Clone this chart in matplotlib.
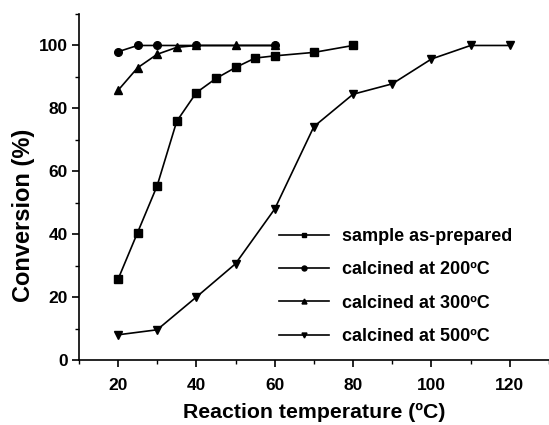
import matplotlib
matplotlib.use("Agg")
import matplotlib.pyplot as plt
from matplotlib.ticker import MultipleLocator

plt.rcParams["font.family"] = ["Liberation Sans", "DejaVu Sans"]
plt.rcParams["font.weight"] = "bold"

# ── Data ──────────────────────────────────────────────────────────────────────
temp_asprep = [20, 25, 30, 35, 40, 45, 50, 55, 60, 70, 80]
conv_asprep = [25.6, 40.5, 55.4, 75.9, 85.0, 89.5, 93.0, 96.0, 96.7, 97.8, 100.0]

temp_200 = [20, 25, 30, 40, 60]
conv_200 = [98.0, 100.0, 100.0, 100.0, 100.0]

temp_300 = [20, 25, 30, 35, 40, 50, 60]
conv_300 = [85.7, 92.9, 97.2, 99.4, 100.0, 100.0, 100.0]

temp_500 = [20, 30, 40, 50, 60, 70, 80, 90, 100, 110, 120]
conv_500 = [8.0, 9.6, 20.0, 30.6, 48.0, 74.2, 84.5, 87.8, 95.7, 100.0, 100.0]

labels = ["sample as-prepared", "calcined at 200ºC",
          "calcined at 300ºC", "calcined at 500ºC"]

# ── Figure ────────────────────────────────────────────────────────────────────
fig = plt.figure(figsize=(5.49, 4.25), dpi=100)
ax = fig.add_axes([0.1435, 0.153, 0.8565, 0.814])

style = dict(color="black", lw=1.2, ms=5.5, clip_on=False, zorder=3)
ax.plot(temp_asprep, conv_asprep, marker="s", label=labels[0], **style)
ax.plot(temp_200, conv_200, marker="o", label=labels[1], **style)
ax.plot(temp_300, conv_300, marker="^", label=labels[2], **style)
ax.plot(temp_500, conv_500, marker="v", label=labels[3], **style)

ax.set_xlim(10, 130)
ax.set_ylim(0, 110)
ax.set_xticks([20, 40, 60, 80, 100, 120])
ax.xaxis.set_minor_locator(MultipleLocator(10))
ax.yaxis.set_major_locator(MultipleLocator(20))
ax.yaxis.set_minor_locator(MultipleLocator(10))

for side in ("top", "right"):
    ax.spines[side].set_visible(False)
for side in ("left", "bottom"):
    ax.spines[side].set_linewidth(1.2)

ax.tick_params(which="major", direction="out", length=5, width=1.2,
               labelsize=12.5)
ax.tick_params(axis="x", which="major", pad=8)
ax.tick_params(axis="y", which="major", pad=3)
ax.tick_params(which="minor", direction="out", length=3, width=1.0)

ax.set_xlabel("Reaction temperature (ºC)", fontsize=15.3, fontweight="bold",
              labelpad=7)
ax.set_ylabel("Conversion (%)", fontsize=17, fontweight="bold")
ax.yaxis.set_label_coords(-0.094, 0.419)

leg = ax.legend(loc="upper left", bbox_to_anchor=(0.508, 0.463),
                bbox_transform=fig.transFigure, frameon=False,
                borderpad=0, borderaxespad=0,
                fontsize=13, handlelength=2.8, handletextpad=0.7,
                labelspacing=0.9, markerscale=0.65)

fig.savefig("out.png", dpi=100, facecolor="white")
